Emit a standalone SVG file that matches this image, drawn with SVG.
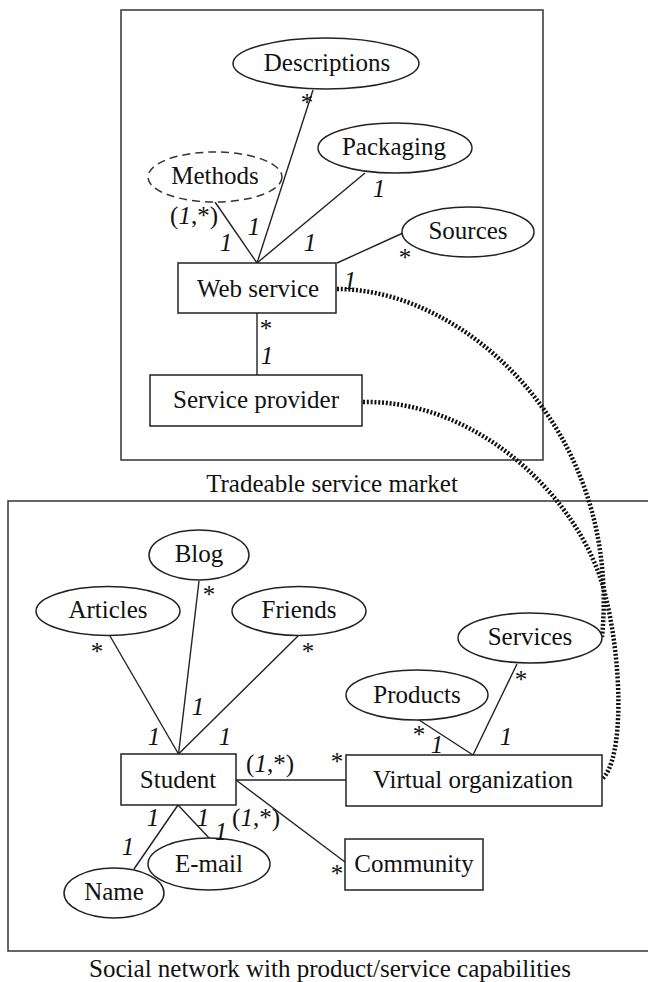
<svg xmlns="http://www.w3.org/2000/svg" width="648" height="982" viewBox="0 0 648 982" font-family="'Liberation Serif', 'Times New Roman', serif">
<style>
text{font-family:"Liberation Serif","Times New Roman",serif;font-size:25px;fill:#111;text-anchor:middle}
.it{font-style:italic}
.frame{fill:none;stroke:#333;stroke-width:1.5}
.node{fill:#fff;stroke:#222;stroke-width:1.5}
.dash{fill:#fff;stroke:#333;stroke-width:1.5;stroke-dasharray:8 5}
.ln{fill:none;stroke:#222;stroke-width:1.4}
.dot{fill:none;stroke:#111;stroke-width:4.5;stroke-dasharray:2 1.8}
</style>
<rect width="648" height="982" fill="#fff"/>
<g id="frames">
<rect class="frame" x="121" y="10" width="422" height="450"/>
<text x="332" y="492">Tradeable service market</text>
<path class="frame" d="M648,501 H8 V951 H648"/>
<text x="330" y="977">Social network with product/service capabilities</text>
</g>
<g id="connectors">
<line class="ln" x1="313" y1="90" x2="257" y2="263"/>
<line class="ln" x1="365" y1="173" x2="257" y2="263"/>
<line class="ln" x1="215" y1="202" x2="257" y2="263"/>
<line class="ln" x1="337" y1="263" x2="403" y2="233"/>
<line class="ln" x1="257" y1="313" x2="257" y2="375"/>
<line class="ln" x1="199" y1="581" x2="178.5" y2="754"/>
<line class="ln" x1="110" y1="636" x2="178.5" y2="754"/>
<line class="ln" x1="298" y1="636" x2="178.5" y2="754"/>
<line class="ln" x1="236" y1="780" x2="346" y2="780"/>
<line class="ln" x1="236" y1="780" x2="345" y2="862"/>
<line class="ln" x1="178" y1="805" x2="134" y2="869"/>
<line class="ln" x1="178" y1="805" x2="210" y2="839"/>
<line class="ln" x1="517" y1="664" x2="473" y2="755"/>
<line class="ln" x1="419" y1="720" x2="473" y2="755"/>
<path class="dot" d="M337,289 C465,289 622,430 602,637"/>
<path class="dot" d="M363,402 C480,400 580,500 604,590 C623,662 624,760 602,779"/>
</g>
<g id="descriptions"><ellipse class="node" cx="326" cy="63.5" rx="93" ry="25.5"/><text x="327" y="71">Descriptions</text></g>
<g id="packaging"><ellipse class="node" cx="395" cy="148" rx="77" ry="25"/><text x="394" y="155">Packaging</text></g>
<g id="methods"><ellipse class="dash" cx="215" cy="177" rx="67" ry="25"/><text x="215" y="184">Methods</text></g>
<g id="sources"><ellipse class="node" cx="468" cy="232" rx="66" ry="25"/><text x="468" y="239">Sources</text></g>
<g id="web-service"><rect class="node" x="178" y="263" width="158" height="50"/><text x="258" y="297">Web service</text></g>
<g id="service-provider"><rect class="node" x="150" y="375" width="212" height="51"/><text x="256" y="408">Service provider</text></g>
<g id="blog"><ellipse class="node" cx="199" cy="555" rx="50" ry="25"/><text x="199" y="562">Blog</text></g>
<g id="articles"><ellipse class="node" cx="108" cy="611" rx="72" ry="24.5"/><text x="108" y="618">Articles</text></g>
<g id="friends"><ellipse class="node" cx="299" cy="611" rx="67" ry="24.5"/><text x="299" y="618">Friends</text></g>
<g id="services"><ellipse class="node" cx="530" cy="638" rx="72" ry="25"/><text x="530" y="645">Services</text></g>
<g id="products"><ellipse class="node" cx="417" cy="695" rx="71" ry="25"/><text x="417" y="703">Products</text></g>
<g id="student"><rect class="node" x="121" y="754" width="115" height="51"/><text x="178" y="788">Student</text></g>
<g id="virtual-organization"><rect class="node" x="346" y="755" width="256" height="51"/><text x="473" y="788">Virtual organization</text></g>
<g id="email"><ellipse class="node" cx="209" cy="864" rx="61" ry="26"/><text x="209" y="872">E-mail</text></g>
<g id="name"><ellipse class="node" cx="114" cy="893" rx="50" ry="25"/><text x="114" y="900">Name</text></g>
<g id="community"><rect class="node" x="345" y="839" width="138" height="51"/><text x="414" y="872">Community</text></g>
<g id="labels">
<text x="307" y="111">*</text>
<text class="it" x="379" y="197">1</text>
<text x="194" y="224">(<tspan class="it">1</tspan>,*)</text>
<text class="it" x="226" y="251">1</text>
<text class="it" x="254" y="235">1</text>
<text class="it" x="310" y="251">1</text>
<text x="405" y="266">*</text>
<text class="it" x="350" y="289">1</text>
<text x="266" y="337">*</text>
<text class="it" x="267" y="364">1</text>
<text x="209" y="603">*</text>
<text x="97" y="660">*</text>
<text x="308" y="660">*</text>
<text class="it" x="198" y="715">1</text>
<text class="it" x="154" y="745">1</text>
<text class="it" x="225" y="745">1</text>
<text x="270" y="772">(<tspan class="it">1</tspan>,*)</text>
<text x="337" y="770">*</text>
<text x="521" y="688">*</text>
<text class="it" x="506" y="745">1</text>
<text x="419" y="743">*</text>
<text class="it" x="437" y="753">1</text>
<text class="it" x="153" y="826">1</text>
<text class="it" x="203" y="826">1</text>
<text class="it" x="221" y="840">1</text>
<text x="256" y="826">(<tspan class="it">1</tspan>,*)</text>
<text class="it" x="128" y="855">1</text>
<text x="337" y="882">*</text>
</g>
</svg>
